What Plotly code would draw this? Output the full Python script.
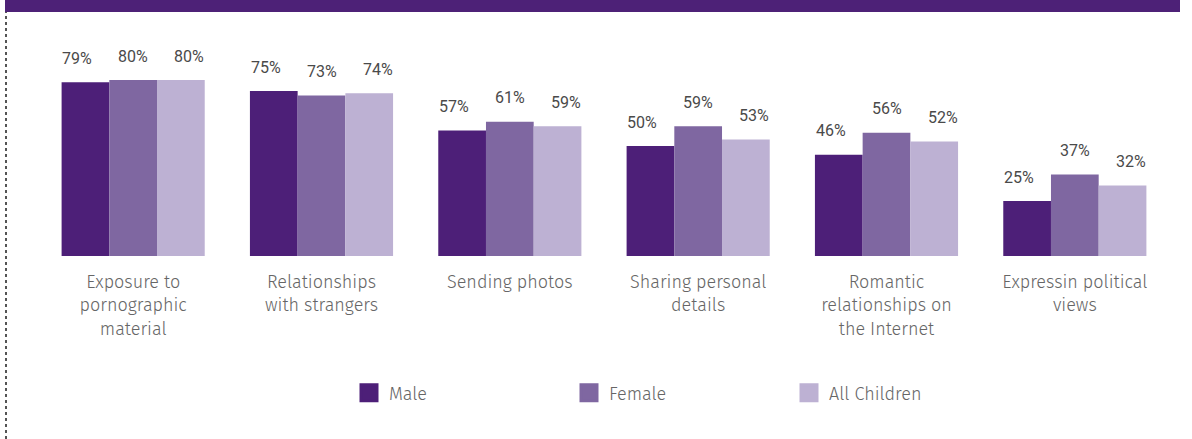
import plotly.graph_objects as go

categories = ["Exposure to<br>pornographic<br>material", "Relationships<br>with strangers",
              "Sending photos", "Sharing personal<br>details",
              "Romantic<br>relationships on<br>the Internet", "Expressin political<br>views"]
male = [79, 75, 57, 50, 46, 25]
female = [80, 73, 61, 59, 56, 37]
all_children = [80, 74, 59, 53, 52, 32]
series_names = ["Male", "Female", "All Children"]
colors = ["#4d1f78", "#7f67a1", "#bdb1d3"]

W, H = 1192, 439
L, R, T, B = 39, 23, 36, 183
PW, PH = W - L - R, H - T - B

def px_x(p):
    return (p - L) / PW

def px_y(p):
    return (H - B - p) / PH

fig = go.Figure()
for name, vals, col in zip(series_names, [male, female, all_children], colors):
    fig.add_trace(go.Bar(x=categories, y=vals, name=name, marker=dict(color=col, line=dict(width=0)),
                         showlegend=False, hoverinfo="skip"))
for name, col in zip(series_names, colors):
    fig.add_trace(go.Scatter(x=[None], y=[None], mode="markers", name=name,
                             marker=dict(symbol="square", size=22, color=col,
                                         line=dict(color=col, width=3))))

shifts = [-56, 0, 56]
for vals, sh in zip([male, female, all_children], shifts):
    for c, v in zip(categories, vals):
        fig.add_annotation(x=c, y=v, text=f"{v}%", showarrow=False, xshift=sh, yshift=24,
                           font=dict(family="Roboto", size=16, color="#4a4a4a", weight=400))

fig.add_shape(type="rect", xref="paper", yref="paper", x0=px_x(5), x1=px_x(1180),
              y0=px_y(12), y1=px_y(0), fillcolor="#4d2177", line=dict(width=0), layer="above")
fig.add_shape(type="line", xref="paper", yref="paper", x0=px_x(6), x1=px_x(6),
              y0=px_y(439), y1=px_y(12), line=dict(color="#555", width=2, dash="dot"))

fig.update_layout(
    width=W, height=H, margin=dict(l=L, r=R, t=T, b=B),
    paper_bgcolor="white", plot_bgcolor="white",
    barmode="group", bargap=0.24, bargroupgap=0,
    font=dict(family="Fira Sans, Open Sans", size=18, color="#666", weight=300),
    xaxis=dict(showgrid=False, showline=False, zeroline=False, ticks="",
               tickfont=dict(family="Fira Sans, Open Sans", size=18, color="#666", weight=300),
               ticklabelstandoff=13),
    yaxis=dict(range=[0, 100], visible=False),
    legend=dict(orientation="h", x=px_x(349), xanchor="left", y=px_y(393), yanchor="middle",
                font=dict(size=18, color="#666", weight=300), entrywidth=175, entrywidthmode="pixels",
                bgcolor="rgba(0,0,0,0)"),
)
fig.write_html("out.html", config={"displayModeBar": False},
               post_script="document.body.style.margin='0';")
